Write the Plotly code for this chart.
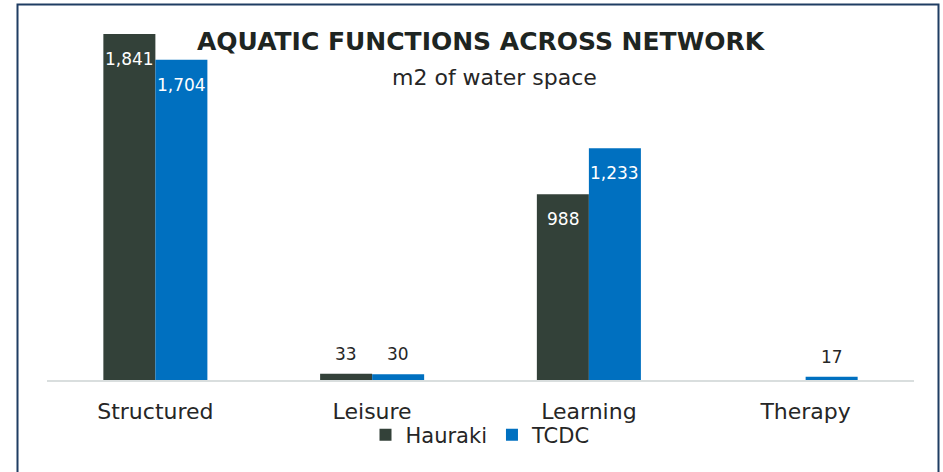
import plotly.graph_objects as go

categories = ["Structured", "Leisure", "Learning", "Therapy"]
hauraki = [1841, 33, 988, None]
tcdc = [1704, 30, 1233, 17]
series_names = ["Hauraki", "TCDC"]

title_text = "AQUATIC FUNCTIONS ACROSS NETWORK"
subtitle_text = "m2 of water space"

FONT = "DejaVu Sans"
C_H = "#334139"
C_T = "#0070C0"
TXT = "#262626"

fig = go.Figure()
for name, vals, col in [(series_names[0], hauraki, C_H), (series_names[1], tcdc, C_T)]:
    fig.add_trace(go.Bar(
        name=name, x=categories, y=vals, marker_color=col, marker_line_width=0,
        hoverinfo="x+y+name",
    ))

L, R, T, B = 47, 29, 4, 92
W, H = 943, 472
pw, ph = W - L - R, H - T - B


def px_x(px):
    return (px - L) / pw


def px_y(py):
    return (H - B - py) / ph


# data labels (inside end for tall bars, outside end for short ones)
label_anns = []
for vals, xs in [(hauraki, -26), (tcdc, 26)]:
    for cat, v in zip(categories, vals):
        if v is None:
            continue
        inside = v > 300
        label_anns.append(dict(
            x=cat, y=v, xref="x", yref="y", text=f"{v:,}", showarrow=False,
            xshift=xs, yshift=-25 if inside else 20,
            xanchor="center", yanchor="middle",
            font=dict(family=FONT, size=17, color="white" if inside else TXT),
        ))

fig.update_layout(
    width=W, height=H,
    margin=dict(l=L, r=R, t=T, b=B),
    paper_bgcolor="white", plot_bgcolor="white",
    barmode="group", bargap=0.52, bargroupgap=0,
    showlegend=True,
    legend=dict(orientation="h", x=0.5, xanchor="center", y=px_y(435), yanchor="middle",
                font=dict(family=FONT, size=21, color=TXT), itemwidth=30,
                bgcolor="rgba(0,0,0,0)"),
    xaxis=dict(showline=True, linecolor="#D9DEDE", linewidth=2, showgrid=False,
               tickfont=dict(family=FONT, size=22, color=TXT), ticks="",
               ticklabelstandoff=11, fixedrange=True),
    yaxis=dict(range=[0, 2000], visible=False, showgrid=False, zeroline=False,
               fixedrange=True),
    annotations=[
        dict(text="<b>" + title_text + "</b>", xref="paper", yref="paper",
             x=px_x(481), y=px_y(41), xanchor="center", yanchor="middle", showarrow=False,
             font=dict(family=FONT, size=25, color="#1E2522")),
        dict(text=subtitle_text, xref="paper", yref="paper",
             x=px_x(495), y=px_y(77), xanchor="center", yanchor="middle", showarrow=False,
             font=dict(family=FONT, size=22, color=TXT)),
    ] + label_anns,
    shapes=[
        dict(type="path", xref="paper", yref="paper",
             path=f"M {px_x(17.5)} {px_y(480)} L {px_x(17.5)} {px_y(4.5)} L {px_x(938.5)} {px_y(4.5)} L {px_x(938.5)} {px_y(480)}",
             line=dict(color="#1F3D63", width=2), layer="above"),
    ],
)

fig.write_html("out.html", config={"displayModeBar": False},
               post_script="document.body.style.margin='0';")
